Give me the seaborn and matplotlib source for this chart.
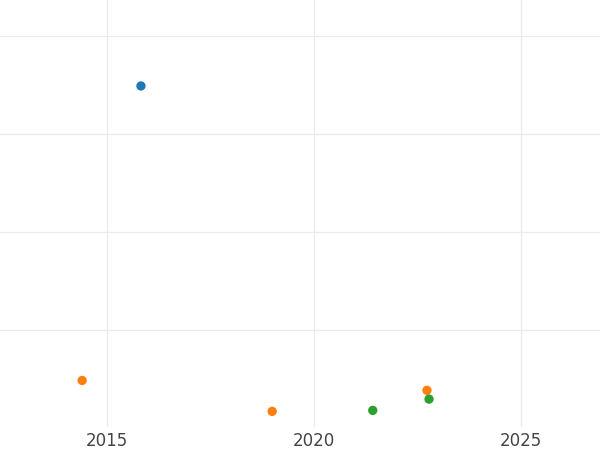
import matplotlib
matplotlib.use("Agg")
import matplotlib.pyplot as plt
import pandas as pd
import seaborn as sns

# valores (grupo, ano, valor)
groups = ["A", "B", "B", "B", "C", "C"]
years = [2015.82, 2014.40, 2018.99, 2022.73, 2021.42, 2022.78]
values = [34.9, 4.85, 1.7, 3.85, 1.8, 2.95]
x_ticks = [2015, 2020, 2025]
y_ticks = [10, 20, 30, 40]

sns.set_theme(style="whitegrid", rc={
    "grid.color": "#ebebeb",
    "grid.linewidth": 0.9,
    "axes.edgecolor": "white",
})

df = pd.DataFrame({"grupo": groups, "ano": years, "valor": values})

fig = plt.figure(figsize=(6, 4.5), dpi=100)
ax = fig.add_axes([0, 0.051, 1, 0.949])
sns.scatterplot(data=df, x="ano", y="valor", hue="grupo",
                palette=["#1f77b4", "#ff7f0e", "#2ca02c"],
                s=45, edgecolor="none", legend=False, ax=ax)

ax.set_xlim(2012.415, 2026.91)
ax.set_ylim(0.1, 43.67)
ax.set_xticks(x_ticks)
ax.set_xticklabels([str(t) for t in x_ticks])
ax.set_yticks(y_ticks)
ax.set_yticklabels([])
ax.tick_params(axis="x", length=0, pad=3.5, labelsize=12, labelcolor="#444444")
ax.tick_params(axis="y", length=0)
ax.set_xlabel(""); ax.set_ylabel("")
for sp in ax.spines.values():
    sp.set_visible(False)

fig.savefig("out.png", dpi=100)
